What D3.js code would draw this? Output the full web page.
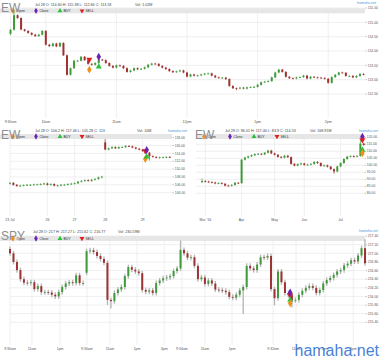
<!DOCTYPE html>
<html><head><meta charset="utf-8">
<script src="https://cdn.jsdelivr.net/npm/d3@7"></script>
<style>html,body{margin:0;padding:0;background:#fff;overflow:hidden}</style>
</head><body><svg id="c" width="380" height="358"></svg>
<script>
// ---------- DATA ----------
// Panel A: EW intraday, 3-minute bars from 9:30am
const ewDayMinutesStep = 3;
const ewDayOpen0 = 114.60;
const ewDayCloses = [114.74,115.25,115.15,114.75,114.70,114.63,114.57,114.52,114.57,114.70,
114.22,114.17,114.26,114.16,114.28,113.85,113.17,113.40,113.66,113.66,
113.80,113.68,113.55,113.52,113.58,113.70,113.68,113.58,113.48,113.42,
113.50,113.48,113.40,113.27,113.32,113.40,113.36,113.38,113.43,113.52,
113.56,113.55,113.48,113.42,113.37,113.30,113.26,113.29,113.32,113.25,
113.11,113.18,113.14,113.15,113.18,113.21,113.22,113.14,113.08,113.06,
113.07,113.02,112.78,112.70,112.69,112.72,112.69,112.73,112.74,112.75,
112.82,112.91,112.93,112.95,113.08,113.25,113.35,113.27,113.10,113.05,
113.04,113.08,113.09,113.14,113.04,113.10,113.08,113.07,113.06,113.03,
112.89,113.09,113.17,113.25,113.24,113.13,113.13,113.08,113.13,113.20,
113.18];
const ewDayExtremes = {0:{l:114.58}, 1:{h:115.38}, 64:{l:112.66}};
const ewDayYTicks = [112.5,113,113.5,114,114.5,115,115.5];
const ewDayXTickMinutes = [0,30,90,150,210,270];
const ewDayXTickLabels = ["9:30am","10am","11am","12pm","1pm","2pm"];
const ewDayMarkers = [
  {type:"SELL", pos:67, price:113.70},
  {type:"Open", pos:67, price:113.35},
  {type:"Close", pos:75, price:113.80},
  {type:"BUY", pos:75, price:113.45}
];
const ewDayInfo = "Jul 28 O: 114.60 H: 115.38 L: 112.66 C: 113.18";
const ewDayVol = "Vol: 1.02M";

// Panel B-left: EW 5 days
const ew5Open0 = 106.3;
const ew5Closes = [106.5,106.0,105.7,105.8,105.9,106.0,106.0,106.1,106.1,106.2,
106.35,106.0,106.2,105.8,105.85,106.0,106.05,106.2,106.3,106.4,
106.8,107.0,107.2,107.0,107.3,107.5,107.9,108.1,115.0,115.3,
115.6,115.3,115.6,115.6,115.9,115.8,115.5,115.2,114.95,114.6,
114.2,113.3,113.1,112.9,113.0,113.0,113.1,113.0];
const ew5GapOpens = {28:116.8};
const ew5Extremes = {28:{h:117.46}, 41:{l:112.4}};
const ew5YTicks = [104,106,108,110,112,114,116,118];
const ew5XTickBars = [0,11,19,28,39];
const ew5XTickLabels = ["23 Jul","26","27","28","29"];
const ew5Markers = [
  {type:"SELL", pos:39.8, price:114.6},
  {type:"Close", pos:40.2, price:114.87},
  {type:"Open", pos:39.8, price:112.58},
  {type:"BUY", pos:40.2, price:113.17}
];
const ew5Info = "Jul 28 O: 106.2 H: 117.46 L: 105.28 C: 113";
const ew5Vol = "Vol: 10M";

// Panel B-right: EW months
const ewMOpen0 = 88.0;
const ewMCloses = [88.8,88.4,88.0,87.7,87.0,87.3,86.8,85.5,85.4,86.0,
87.5,87.3,104.0,105.5,106.4,107.2,108.0,108.2,107.8,109.0,
110.5,108.5,107.5,106.0,105.5,106.8,105.8,101.0,99.8,100.8,
101.3,100.3,100.5,101.0,102.4,101.6,99.5,100.0,99.0,97.2,
95.6,99.2,101.6,104.5,106.2,106.6,106.2,106.7,115.5,114.53];
const ewMGapOpens = {};
const ewMExtremes = {0:{h:90.0}, 40:{l:94.5}, 48:{h:117.46}};
const ewMYTicks = [80,85,90,95,100,105,110,115,120];
const ewMXTickBars = [1,12,22,31,42];
const ewMXTickLabels = ["Mar '16","Apr","May","Jun","Jul"];
const ewMMarkers = [
  {type:"Close", pos:48.6, price:120.4},
  {type:"SELL", pos:48.6, price:118.1},
  {type:"BUY", pos:48.6, price:110.9},
  {type:"Open", pos:48.6, price:108.6}
];
const ewMInfo = "Jul 28 O: 96.01 H: 117.46 L: 83.9 C: 114.53";
const ewMVol = "Vol: 168.91M";

// Panel C: SPY multi-day intraday
const spyOpen0 = 217.1;
const spyCloses = [217.0,216.8,216.61,216.4,216.32,216.31,216.33,216.17,216.24,216.1,
216.1,216.09,216.04,216.0,216.1,216.22,216.3,216.33,216.31,216.49,
216.31,216.31,217.05,217.07,217.03,216.94,216.87,216.78,215.92,215.89,
216.08,216.16,216.22,216.47,216.68,216.62,216.58,216.54,216.15,216.11,
216.14,216.08,216.31,216.37,216.42,216.44,216.47,216.59,216.65,217.08,
217.0,216.9,216.91,216.71,216.4,216.44,216.29,216.37,216.3,216.16,
216.15,216.13,216.1,215.99,215.97,216.04,216.14,216.22,216.71,216.65,
216.61,216.74,216.91,216.9,216.94,216.17,215.96,216.58,216.33,216.08,
216.03,215.91,215.92,216.04,216.13,216.2,216.24,216.2,216.08,216.15,
216.3,216.38,216.43,216.5,216.58,216.61,216.72,216.76,216.84,216.81,
216.95,217.12,216.77];
const spyGapOpens = {22:216.55};
const spyExtremes = {28:{l:215.86}, 29:{l:215.78}, 49:{h:217.24}, 67:{l:215.65}, 76:{l:215.85}, 81:{l:215.8}, 102:{h:217.27}};
const spyYTicks = [215.4,215.6,215.8,216.0,216.2,216.4,216.6,216.8,217.0,217.2,217.4];
const spyXTickBars = [0,6.3,14.4,22.1,28.7,36.5,44.3,49.4,56.0,63.8,75.6,82.2,90.5,98.6];
const spyXTickLabels = ["9:30am","11am","1pm","9:30am","11am","1pm","3pm","9:34am","11am","1pm","9:32am","11am","1pm","3pm"];
const spyMarkers = [
  {type:"SELL", pos:80.5, price:216.03},
  {type:"Close", pos:80.5, price:216.09},
  {type:"BUY", pos:80.5, price:215.92},
  {type:"Open", pos:80.5, price:215.84}
];
const spyInfo = "Jul 28 O: 217 H: 217.27 L: 215.62 C: 216.77";
const spyVol = "Vol: 230.59M";

const legendItems = ["Open","Close","BUY","SELL"];

// ---------- DRAWING ----------
const FONT = "'Liberation Sans', Arial, sans-serif";
const svg = d3.select("#c");
const COL = {up:"#3f9a3a", down:"#9e3232", grid:"#ebebeb", text:"#555", title:"#8d8d8d", ham:"#4a9be0", bar:"#e6e6e6"};
const markerStyle = {
  Open:{fill:"#f0901a", sym:d3.symbolDiamond, size:18, rot:0},
  Close:{fill:"#6b22b5", sym:d3.symbolDiamond, size:18, rot:0},
  BUY:{fill:"#27c23a", sym:d3.symbolTriangle, size:16, rot:0},
  SELL:{fill:"#e01e1e", sym:d3.symbolTriangle, size:16, rot:180}
};

function buildBars(closes, open0, gapOpens, extremes) {
  return closes.map((c, i) => {
    const o = i === 0 ? open0 : (gapOpens[i] !== undefined ? gapOpens[i] : closes[i-1]);
    const e = extremes[i] || {};
    return {i, o, c, h: e.h !== undefined ? e.h : Math.max(o, c), l: e.l !== undefined ? e.l : Math.min(o, c)};
  });
}

function sym(type) {
  const s = markerStyle[type];
  return d3.symbol().type(s.sym).size(s.size)();
}

function drawPanel(p) {
  const g = svg.append("g");
  const x = p.x, y = p.y;
  // grid
  g.selectAll(null).data(p.xTicks).enter().append("line")
    .attr("x1", d => x(d)).attr("x2", d => x(d))
    .attr("y1", p.plotTop).attr("y2", p.plotBottom)
    .attr("stroke", COL.grid).attr("stroke-width", 0.8);
  g.selectAll(null).data(p.yTicks).enter().append("line")
    .attr("x1", p.plotLeft).attr("x2", p.plotRight)
    .attr("y1", d => y(d)).attr("y2", d => y(d))
    .attr("stroke", COL.grid).attr("stroke-width", 0.8);
  // y labels + ticks
  g.selectAll(null).data(p.yTicks).enter().append("line")
    .attr("x1", p.plotRight + 0.5).attr("x2", p.plotRight + 2)
    .attr("y1", d => y(d)).attr("y2", d => y(d))
    .attr("stroke", "#999").attr("stroke-width", 0.6);
  g.selectAll(null).data(p.yTicks).enter().append("text")
    .attr("x", p.plotRight + 2.8).attr("y", d => y(d))
    .attr("dy", "0.35em").attr("font-size", 3.4).attr("font-family", FONT)
    .attr("fill", COL.text).text(d => d3.format(".2f")(d));
  // x labels
  g.selectAll(null).data(p.xTicks).enter().append("text")
    .attr("x", (d) => x(d)).attr("y", p.xLabelY)
    .attr("dy", "0.35em").attr("text-anchor", "middle")
    .attr("font-size", 3.5).attr("font-family", FONT).attr("fill", COL.text)
    .text((d, i) => p.xLabels[i]);
  // legend bar
  g.append("rect").attr("x", p.legend.x0).attr("y", p.legend.y0)
    .attr("width", p.legend.x1 - p.legend.x0).attr("height", p.legend.h)
    .attr("fill", COL.bar);
  const ly = p.legend.y0 + p.legend.h / 2;
  legendItems.forEach((name, k) => {
    const lx = p.legend.x0 + p.legend.offsets[k];
    const s = markerStyle[name];
    g.append("path").attr("d", sym(name))
      .attr("transform", `translate(${lx},${ly}) rotate(${s.rot}) scale(0.8)`)
      .attr("fill", s.fill);
    g.append("text").attr("x", lx + 3.5).attr("y", ly).attr("dy", "0.35em")
      .attr("font-size", 3.5).attr("font-family", FONT).attr("fill", "#333").text(name);
  });
  // candles
  const bw = p.bodyW;
  const cg = g.append("g");
  cg.selectAll(null).data(p.bars).enter().append("line")
    .attr("x1", d => x(d.pos)).attr("x2", d => x(d.pos))
    .attr("y1", d => y(d.h) - p.wickPx).attr("y2", d => y(d.l) + p.wickPx)
    .attr("stroke", d => p.wickColor || (d.c >= d.o ? COL.up : COL.down))
    .attr("stroke-width", p.wickW);
  cg.selectAll(null).data(p.bars).enter().append("rect")
    .attr("x", d => x(d.pos) - bw / 2)
    .attr("y", d => Math.min(y(d.o), y(d.c)))
    .attr("width", bw)
    .attr("height", d => Math.max(0.8, Math.abs(y(d.o) - y(d.c))))
    .attr("fill", d => d.c >= d.o ? COL.up : COL.down);
  // markers
  g.selectAll(null).data(p.markers).enter().append("path")
    .attr("d", d => sym(d.type))
    .attr("transform", d => `translate(${x(d.pos)},${y(d.price)}) rotate(${markerStyle[d.type].rot})`)
    .attr("fill", d => markerStyle[d.type].fill);
  // texts
  g.append("text").attr("x", p.titleX).attr("y", p.titleY)
    .attr("font-size", 12).attr("font-family", FONT).attr("fill", COL.title).text(p.title);
  g.append("text").attr("x", p.infoX).attr("y", p.infoY).attr("dy", "0.35em")
    .attr("font-size", 3.7).attr("font-family", FONT).attr("fill", "#444").text(p.info);
  g.append("text").attr("x", p.volX).attr("y", p.infoY).attr("dy", "0.35em")
    .attr("font-size", 3.7).attr("font-family", FONT).attr("fill", "#444").text(p.vol);
  g.append("text").attr("x", p.hamX).attr("y", p.hamY).attr("dy", "0.35em")
    .attr("text-anchor", "end").attr("font-size", 3.6).attr("font-family", FONT)
    .attr("fill", COL.ham).text("hamaha.net");
}

const legendOffsets = [13, 36, 60, 82];

// Panel A
{
  const bars = buildBars(ewDayCloses, ewDayOpen0, {}, ewDayExtremes)
    .map(b => ({...b, pos: b.i * ewDayMinutesStep}));
  drawPanel({
    x: d3.scaleLinear().domain([0, 300]).range([10.5, 363.5]),
    y: d3.scaleLinear().domain([112.5, 115.5]).range([94, 8]),
    plotLeft: 10, plotRight: 365, plotTop: 8, plotBottom: 118,
    yTicks: ewDayYTicks, xTicks: ewDayXTickMinutes, xLabels: ewDayXTickLabels, xLabelY: 122,
    legend: {x0: 0, x1: 365, y0: 8.3, h: 5, offsets: legendOffsets},
    bars, bodyW: 2, wickPx: 0.8, wickW: 0.7,
    markers: ewDayMarkers,
    title: "EW", titleX: 1, titleY: 12,
    info: ewDayInfo, infoX: 35, infoY: 5, vol: ewDayVol, volX: 135,
    hamX: 376, hamY: 3
  });
}
// Panel B-left
{
  const bars = buildBars(ew5Closes, ew5Open0, ew5GapOpens, ew5Extremes).map(b => ({...b, pos: b.i}));
  drawPanel({
    x: d3.scaleLinear().domain([0, 47]).range([10, 169.8]),
    y: d3.scaleLinear().domain([104, 118]).range([192.7, 137.7]),
    plotLeft: 10, plotRight: 172, plotTop: 134, plotBottom: 216,
    yTicks: ew5YTicks, xTicks: ew5XTickBars, xLabels: ew5XTickLabels, xLabelY: 220,
    legend: {x0: 0, x1: 172, y0: 134, h: 5, offsets: legendOffsets},
    bars, bodyW: 2, wickPx: 0.8, wickW: 0.7,
    markers: ew5Markers,
    title: "EW", titleX: 1, titleY: 139,
    info: ew5Info, infoX: 35, infoY: 131, vol: ew5Vol, volX: 137,
    hamX: 187, hamY: 131
  });
}
// Panel B-right
{
  const bars = buildBars(ewMCloses, ewMOpen0, ewMGapOpens, ewMExtremes).map(b => ({...b, pos: b.i}));
  drawPanel({
    x: d3.scaleLinear().domain([0, 49]).range([202, 363.7]),
    y: d3.scaleLinear().domain([80, 120]).range([193.3, 137.3]),
    plotLeft: 196, plotRight: 364, plotTop: 134, plotBottom: 216,
    yTicks: ewMYTicks, xTicks: ewMXTickBars, xLabels: ewMXTickLabels, xLabelY: 219.5,
    legend: {x0: 196, x1: 364, y0: 134, h: 5, offsets: [8, 34, 58, 81]},
    bars, bodyW: 2, wickPx: 0.8, wickW: 0.7,
    markers: ewMMarkers,
    title: "EW", titleX: 195, titleY: 139,
    info: ewMInfo, infoX: 225, infoY: 131, vol: ewMVol, volX: 310,
    hamX: 378, hamY: 131
  });
}
// Panel C
{
  const bars = buildBars(spyCloses, spyOpen0, spyGapOpens, spyExtremes).map(b => ({...b, pos: b.i}));
  drawPanel({
    x: d3.scaleLinear().domain([0, 102]).range([10, 365]),
    y: d3.scaleLinear().domain([215.4, 217.4]).range([322.3, 236.1]),
    plotLeft: 10, plotRight: 365, plotTop: 236, plotBottom: 345,
    yTicks: spyYTicks, xTicks: spyXTickBars, xLabels: spyXTickLabels, xLabelY: 349,
    legend: {x0: 0, x1: 365, y0: 236, h: 5, offsets: legendOffsets},
    bars, bodyW: 2, wickPx: 2.5, wickW: 1.3, wickColor: "#b4b4b4",
    markers: spyMarkers,
    title: "SPY", titleX: 1, titleY: 240,
    info: spyInfo, infoX: 33, infoY: 232, vol: spyVol, volX: 118,
    hamX: 378, hamY: 231
  });
}
// big watermark
svg.append("text").attr("x", 379).attr("y", 356).attr("text-anchor", "end")
  .attr("font-size", 16).attr("font-family", FONT).attr("fill", "#2f6fd0")
  .attr("fill-opacity", 0.9).text("hamaha.net");
</script></body></html>
